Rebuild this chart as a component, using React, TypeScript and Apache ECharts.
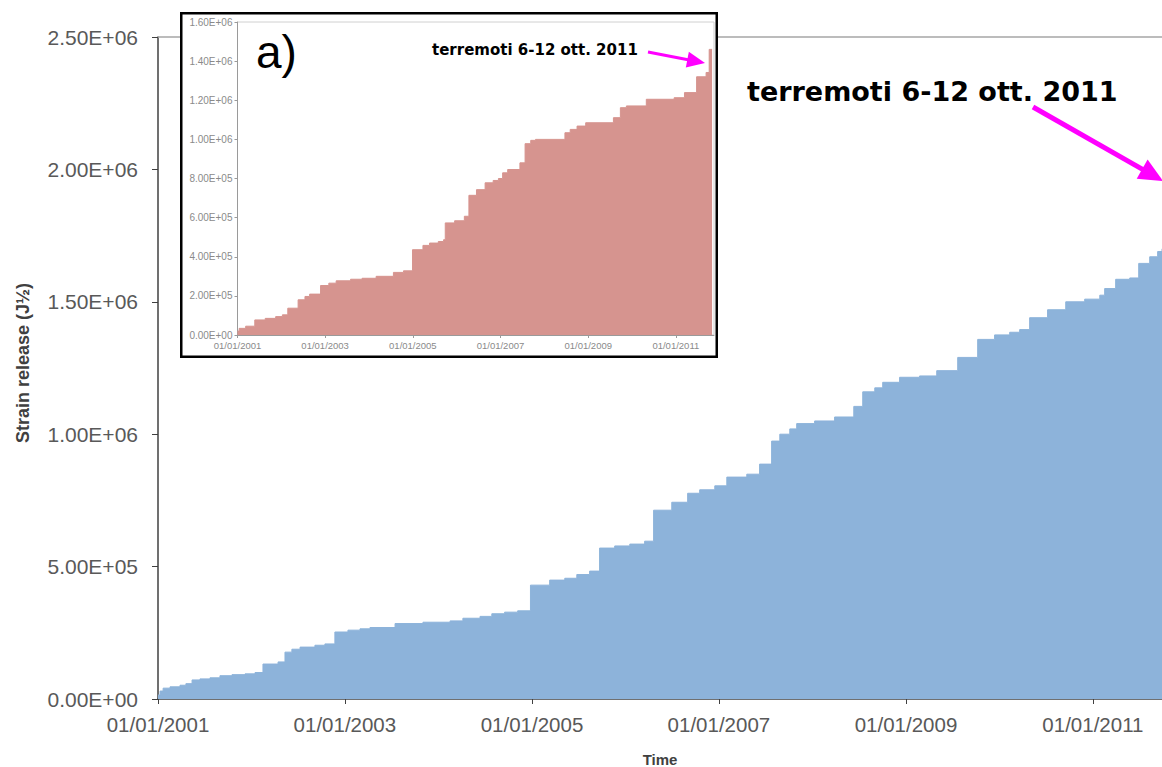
import React, { useEffect, useRef } from 'react';
import * as echarts from 'echarts';

// ---------- DATA ----------
const mainDates = [
  '2001-01-01', '2001-01-09', '2001-01-21', '2001-02-17', '2001-03-28', '2001-04-20', '2001-05-14',
  '2001-06-14', '2001-07-23', '2001-08-31', '2001-10-17', '2001-12-07', '2002-01-15', '2002-02-15',
  '2002-04-15', '2002-05-12', '2002-06-08', '2002-07-10', '2002-09-06', '2002-10-15', '2002-11-23',
  '2003-01-13', '2003-03-01', '2003-04-09', '2003-07-16', '2003-11-02', '2004-02-16', '2004-04-06',
  '2004-06-12', '2004-07-28', '2004-09-16', '2004-11-06', '2004-12-26', '2005-03-11', '2005-05-09',
  '2005-06-25', '2005-08-14', '2005-09-22', '2005-11-20', '2006-01-18', '2006-03-17', '2006-04-21',
  '2006-07-01', '2006-09-01', '2006-10-18', '2006-12-16', '2007-02-01', '2007-04-20', '2007-06-09',
  '2007-07-26', '2007-08-27', '2007-10-05', '2007-11-01', '2008-01-10', '2008-03-28', '2008-06-11',
  '2008-07-16', '2008-09-01', '2008-10-02', '2008-12-07', '2009-02-23', '2009-05-01', '2009-07-22',
  '2009-10-08', '2009-12-13', '2010-02-10', '2010-03-21', '2010-04-29', '2010-07-08', '2010-09-17',
  '2010-11-30', '2011-01-28', '2011-02-16', '2011-03-31', '2011-05-25', '2011-06-29', '2011-08-11',
  '2011-09-11', '2011-09-28',
];
const mainValues = [
  15000, 30000, 41000, 46000, 52000, 58000, 72000,
  76000, 80000, 88000, 92000, 95000, 100000, 132000,
  140000, 177000, 188000, 196000, 203000, 208000, 253000,
  260000, 265000, 270000, 285000, 290000, 295000, 305000,
  312000, 322000, 328000, 333000, 430000, 449000, 456000,
  470000, 483000, 570000, 578000, 585000, 596000, 713000,
  743000, 777000, 790000, 805000, 838000, 849000, 887000,
  974000, 1000000, 1020000, 1040000, 1050000, 1065000, 1105000,
  1160000, 1175000, 1196000, 1215000, 1220000, 1240000, 1290000,
  1358000, 1375000, 1385000, 1395000, 1440000, 1470000, 1500000,
  1510000, 1525000, 1550000, 1585000, 1590000, 1645000, 1670000,
  1690000, 1700000,
];

const insetDates = [
  '2001-01-01', '2001-01-15', '2001-03-10', '2001-05-25', '2001-08-20', '2001-11-15', '2002-01-10',
  '2002-02-24', '2002-05-21', '2002-07-17', '2002-08-25', '2002-11-24', '2003-02-01', '2003-04-03',
  '2003-08-01', '2003-11-05', '2004-03-01', '2004-07-23', '2004-10-15', '2004-12-29', '2005-03-26',
  '2005-05-20', '2005-08-01', '2005-09-14', '2005-09-28', '2005-12-15', '2006-03-06', '2006-04-13',
  '2006-06-15', '2006-08-26', '2006-11-01', '2006-12-15', '2007-01-19', '2007-03-02', '2007-06-12',
  '2007-07-25', '2007-09-10', '2007-10-20', '2008-06-21', '2008-08-04', '2008-09-30', '2008-12-11',
  '2009-07-30', '2009-09-26', '2009-11-15', '2010-04-30', '2010-12-18', '2011-03-14', '2011-06-23',
  '2011-09-10', '2011-10-06', '2011-10-30',
];
const insetValues = [
  20000, 34000, 45000, 77000, 85000, 94000, 103000,
  137000, 180000, 197000, 209000, 253000, 265000, 277000,
  285000, 290000, 300000, 320000, 328000, 436000, 458000,
  470000, 478000, 487000, 573000, 584000, 607000, 714000,
  743000, 778000, 790000, 800000, 829000, 846000, 880000,
  978000, 995000, 1000000, 1034000, 1051000, 1068000, 1085000,
  1111000, 1162000, 1171000, 1205000, 1213000, 1239000, 1320000,
  1342000, 1460000, 1460000,
];

const tickYears = [2001, 2003, 2005, 2007, 2009, 2011];
const axisStart = '2001-01-01';
const mainAxisEnd = '2011-09-28';
const insetAxisEnd = '2011-11-15';
const mainYMax = 2500000;
const mainYStep = 500000;
const insetYMax = 1600000;
const insetYStep = 200000;

const yTitle = 'Strain release (J½)';
const xTitle = 'Time';
const eventLabel = 'terremoti 6-12 ott. 2011';
const panelLabel = 'a)';

// ---------- HELPERS ----------
const toMs = (s: string) => {
  const [y, m, d] = s.split('-').map(Number);
  return Date.UTC(y, m - 1, d);
};
const pad2 = (n: number) => String(n).padStart(2, '0');
const sci = (v: number) => {
  const [m, e] = Number(v).toExponential(2).split('e');
  const n = Number(e);
  return m + 'E' + (n < 0 ? '-' : '+') + pad2(Math.abs(n));
};
const fmtDate = (v: number) => {
  const d = new Date(v);
  return pad2(d.getUTCDate()) + '/' + pad2(d.getUTCMonth() + 1) + '/' + d.getUTCFullYear();
};
const xTicks = tickYears.map((y) => Date.UTC(y, 0, 1));

const arrow = (x1: number, y1: number, x2: number, y2: number, w: number, headLen: number, headHalf: number, color: string) => {
  const dx = x2 - x1;
  const dy = y2 - y1;
  const L = Math.sqrt(dx * dx + dy * dy);
  const ux = dx / L;
  const uy = dy / L;
  const bx = x2 - ux * headLen;
  const by = y2 - uy * headLen;
  const px = -uy;
  const py = ux;
  return [
    { type: 'line', shape: { x1, y1, x2: bx + ux * 2, y2: by + uy * 2 }, style: { stroke: color, lineWidth: w }, silent: true, z: 50 },
    {
      type: 'polygon',
      shape: { points: [[x2, y2], [bx + px * headHalf, by + py * headHalf], [bx - px * headHalf, by - py * headHalf]] },
      style: { fill: color },
      silent: true,
      z: 50,
    },
  ];
};

const MAGENTA = '#FF00FF';
const SANS = 'Liberation Sans, Arial, sans-serif';

export default function App() {
  const mainRef = useRef<HTMLDivElement>(null);
  const insetRef = useRef<HTMLDivElement>(null);

  useEffect(() => {
    if (!mainRef.current || !insetRef.current) return;
    const main = echarts.init(mainRef.current, undefined, { renderer: 'svg' });
    const inset = echarts.init(insetRef.current, undefined, { renderer: 'svg' });

    const mainData = mainDates.map((d, i) => [toMs(d), mainValues[i]]);
    const insetData = insetDates.map((d, i) => [toMs(d), insetValues[i]]);

    main.setOption({
      animation: false,
      backgroundColor: '#ffffff',
      grid: { left: 158, right: 0, top: 37, bottom: 68, containLabel: false, outerBoundsMode: 'none' },
      xAxis: {
        type: 'value',
        min: toMs(axisStart),
        max: toMs(mainAxisEnd),
        axisLine: { show: true, lineStyle: { color: '#404040', width: 1.5 } },
        axisTick: { show: true, length: 5, lineStyle: { color: '#404040' }, customValues: xTicks },
        axisLabel: {
          customValues: xTicks,
          formatter: (v: number) => fmtDate(v),
          color: '#595959',
          fontFamily: SANS,
          fontSize: 20.5,
          margin: 15,
          showMinLabel: true,
          showMaxLabel: true,
        },
        splitLine: { show: false },
        name: xTitle,
        nameLocation: 'middle',
        nameGap: 53,
        nameTextStyle: { fontFamily: SANS, fontWeight: 'bold', fontSize: 15, color: '#404040' },
      },
      yAxis: {
        type: 'value',
        min: 0,
        max: mainYMax,
        interval: mainYStep,
        axisLine: { show: true, lineStyle: { color: '#404040', width: 1.5 } },
        axisTick: { show: true, length: 6, lineStyle: { color: '#404040' } },
        axisLabel: {
          formatter: (v: number) => sci(v),
          color: '#595959',
          fontFamily: SANS,
          fontSize: 21,
          margin: 20,
        },
        splitLine: { show: false },
      },
      series: [
        {
          type: 'line',
          step: 'end',
          data: mainData,
          symbol: 'none',
          lineStyle: { width: 1, color: '#8DB3DA' },
          areaStyle: { color: '#8DB3DA', opacity: 1 },
          markLine: {
            silent: true,
            symbol: ['none', 'none'],
            label: { show: false },
            lineStyle: { color: '#A6A6A6', width: 1.5, type: 'solid' },
            data: [{ yAxis: mainYMax }],
          },
        },
      ],
      graphic: [
        {
          type: 'text',
          x: 23,
          y: 363,
          rotation: Math.PI / 2,
          silent: true,
          style: {
            text: yTitle,
            fontFamily: SANS,
            fontWeight: 'bold',
            fontSize: 18,
            fill: '#404040',
            align: 'center',
            verticalAlign: 'middle',
          },
        },
        {
          type: 'text',
          x: 747,
          y: 91,
          silent: true,
          style: {
            text: eventLabel,
            fontFamily: 'DejaVu Sans',
            fontWeight: 'bold',
            fontSize: 27,
            fill: '#000000',
            align: 'left',
            verticalAlign: 'middle',
          },
        },
        ...arrow(1033, 107, 1163, 181, 5, 24, 11, MAGENTA),
      ],
    });

    inset.setOption({
      animation: false,
      backgroundColor: '#ffffff',
      grid: {
        left: 57.5, right: 4, top: 10, bottom: 23,
        containLabel: false, outerBoundsMode: 'none',
        show: true, borderColor: '#d0d0d0', borderWidth: 1,
      },
      xAxis: {
        type: 'value',
        min: toMs(axisStart),
        max: toMs(insetAxisEnd),
        axisLine: { show: true, lineStyle: { color: '#9a9a9a', width: 1 } },
        axisTick: { show: true, length: 3, lineStyle: { color: '#9a9a9a' }, customValues: xTicks },
        axisLabel: {
          customValues: xTicks,
          formatter: (v: number) => fmtDate(v),
          color: '#8a8a8a',
          fontFamily: SANS,
          fontSize: 9.5,
          margin: 5,
        },
        splitLine: { show: false },
      },
      yAxis: {
        type: 'value',
        min: 0,
        max: insetYMax,
        interval: insetYStep,
        axisLine: { show: true, lineStyle: { color: '#9a9a9a', width: 1 } },
        axisTick: { show: true, length: 3, lineStyle: { color: '#9a9a9a' } },
        axisLabel: {
          formatter: (v: number) => sci(v),
          color: '#8a8a8a',
          fontFamily: SANS,
          fontSize: 10,
          margin: 5,
        },
        splitLine: { show: false },
      },
      series: [
        {
          type: 'line',
          step: 'end',
          data: insetData,
          symbol: 'none',
          lineStyle: { width: 1, color: '#D6948F' },
          areaStyle: { color: '#D6948F', opacity: 1 },
        },
      ],
      graphic: [
        {
          type: 'rect',
          silent: true,
          z: 100,
          shape: { x: 1.25, y: 1.25, width: 535.5, height: 343.5 },
          style: { fill: 'none', stroke: '#000000', lineWidth: 2.5 },
        },
        {
          type: 'text',
          x: 76,
          y: 40,
          silent: true,
          style: {
            text: panelLabel,
            fontFamily: SANS,
            fontSize: 46,
            fill: '#000000',
            align: 'left',
            verticalAlign: 'middle',
          },
        },
        {
          type: 'text',
          x: 252,
          y: 37.5,
          silent: true,
          style: {
            text: eventLabel,
            fontFamily: 'DejaVu Sans',
            fontWeight: 'bold',
            fontSize: 15,
            fill: '#000000',
            align: 'left',
            verticalAlign: 'middle',
          },
        },
        ...arrow(468, 40, 525, 51, 3, 18, 8, MAGENTA),
      ],
    });

    return () => {
      main.dispose();
      inset.dispose();
    };
  }, []);

  return (
    <div style={{ position: 'absolute', left: 0, top: 0, width: 1162, height: 767, overflow: 'hidden', background: '#fff' }}>
      <div ref={mainRef} style={{ position: 'absolute', left: 0, top: 0, width: 1162, height: 767 }} />
      <div ref={insetRef} style={{ position: 'absolute', left: 180, top: 12, width: 538, height: 346, zIndex: 1 }} />
    </div>
  );
}
